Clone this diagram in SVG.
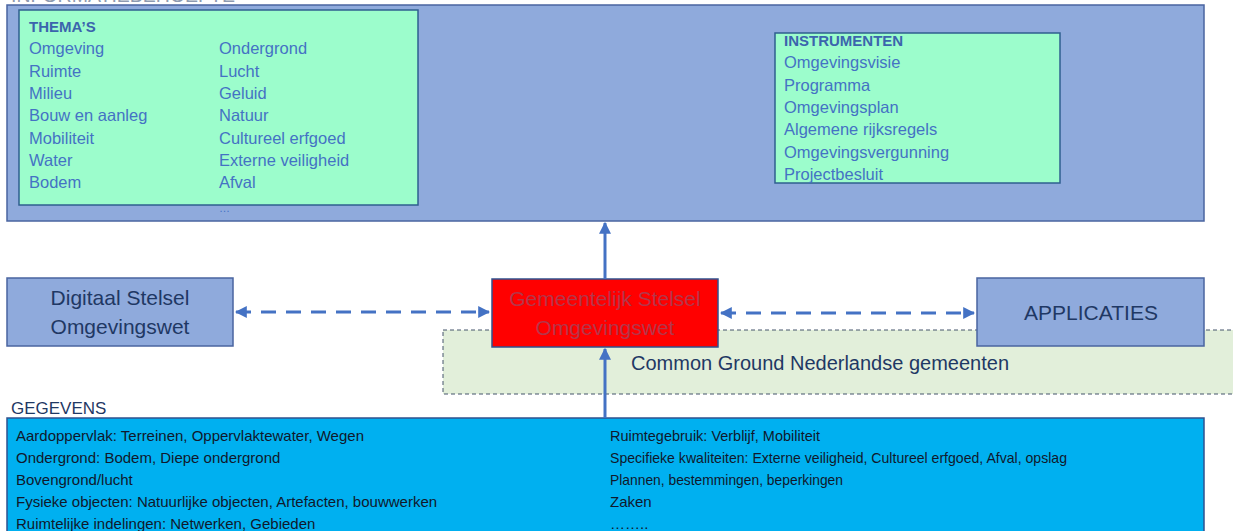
<svg xmlns="http://www.w3.org/2000/svg" width="1233" height="531" viewBox="0 0 1233 531">
<style>
text{font-family:"Liberation Sans",Arial,sans-serif}
.big{fill:#8faadc;stroke:#4a64a0;stroke-width:1.5}
.green{fill:#9cfdcc;stroke:#2f5f8f;stroke-width:1.5}
.item{font-size:16.5px;fill:#4472c4}
.head{font-size:15px;font-weight:bold;fill:#3b64ad}
.node{font-size:21px;fill:#1f3864;text-anchor:middle}
.data{font-size:15px;fill:#10182c}
.conn{stroke:#4472c4;stroke-width:3;fill:none}
.dash{stroke-dasharray:15 10}
</style>
<defs>
<marker id="ah" viewBox="0 0 10 10" refX="9" refY="5" markerWidth="4" markerHeight="4" orient="auto-start-reverse" markerUnits="strokeWidth">
<path d="M0,0 L10,5 L0,10 z" fill="#4472c4"/>
</marker>
</defs>

<text x="11" y="2" style="font-size:19.5px;fill:#8e9ab0">INFORMATIEBEHOEFTE</text>

<g id="informatiebehoefte">
<rect class="big" x="7" y="5" width="1197" height="216"/>
</g>

<g id="themas">
<rect class="green" x="19" y="10" width="399" height="195"/>
<text class="head" x="29" y="32">THEMA’S</text>
<text class="item" x="29" y="54">Omgeving</text>
<text class="item" x="29" y="77">Ruimte</text>
<text class="item" x="29" y="99">Milieu</text>
<text class="item" x="29" y="121">Bouw en aanleg</text>
<text class="item" x="29" y="144">Mobiliteit</text>
<text class="item" x="29" y="166">Water</text>
<text class="item" x="29" y="188">Bodem</text>
<text class="item" x="219" y="54">Ondergrond</text>
<text class="item" x="219" y="77">Lucht</text>
<text class="item" x="219" y="99">Geluid</text>
<text class="item" x="219" y="121">Natuur</text>
<text class="item" x="219" y="144">Cultureel erfgoed</text>
<text class="item" x="219" y="166">Externe veiligheid</text>
<text class="item" x="219" y="188">Afval</text>
<text x="219" y="212" style="font-size:11px;fill:#4472c4">…</text>
</g>

<g id="instrumenten">
<rect class="green" x="775" y="33" width="285" height="150"/>
<text class="head" x="784" y="46">INSTRUMENTEN</text>
<text class="item" x="784" y="68">Omgevingsvisie</text>
<text class="item" x="784" y="91">Programma</text>
<text class="item" x="784" y="113">Omgevingsplan</text>
<text class="item" x="784" y="135">Algemene rijksregels</text>
<text class="item" x="784" y="158">Omgevingsvergunning</text>
<text class="item" x="784" y="180">Projectbesluit</text>
</g>

<g id="common-ground">
<rect x="443" y="330" width="800" height="64" fill="#e2efda" stroke="#44546a" stroke-width="1" stroke-dasharray="4 3"/>
<text x="631" y="370" style="font-size:20px;fill:#1f3864">Common Ground Nederlandse gemeenten</text>
</g>

<g id="digitaal-stelsel">
<rect class="big" x="7" y="278" width="226" height="68"/>
<text class="node" x="120" y="305">Digitaal Stelsel</text>
<text class="node" x="120" y="334">Omgevingswet</text>
</g>

<g id="gemeentelijk-stelsel">
<rect x="492" y="279" width="226" height="68" fill="#ff0000" stroke="#2f528f" stroke-width="1.5"/>
<text class="node" x="605" y="306" style="fill:#b4364a">Gemeentelijk Stelsel</text>
<text class="node" x="605" y="335" style="fill:#b4364a">Omgevingswet</text>
</g>

<g id="applicaties">
<rect class="big" x="977" y="278" width="227" height="68"/>
<text class="node" x="1091" y="320">APPLICATIES</text>
</g>

<g id="gegevens">
<text x="11" y="414" style="font-size:17px;fill:#1f3864">GEGEVENS</text>
<rect x="7" y="418" width="1197" height="120" fill="#00b0f0" stroke="#2f528f" stroke-width="1.5"/>
<text class="data" x="16" y="441">Aardoppervlak: Terreinen, Oppervlaktewater, Wegen</text>
<text class="data" x="16" y="463">Ondergrond: Bodem, Diepe ondergrond</text>
<text class="data" x="16" y="485">Bovengrond/lucht</text>
<text class="data" x="16" y="507">Fysieke objecten: Natuurlijke objecten, Artefacten, bouwwerken</text>
<text class="data" x="16" y="529">Ruimtelijke indelingen: Netwerken, Gebieden</text>
<text class="data" x="610" y="441" textLength="210" lengthAdjust="spacingAndGlyphs">Ruimtegebruik: Verblijf, Mobiliteit</text>
<text class="data" x="610" y="463" textLength="457" lengthAdjust="spacingAndGlyphs">Specifieke kwaliteiten: Externe veiligheid, Cultureel erfgoed, Afval, opslag</text>
<text class="data" x="610" y="485" textLength="233" lengthAdjust="spacingAndGlyphs">Plannen, bestemmingen, beperkingen</text>
<text class="data" x="610" y="507">Zaken</text>
<text class="data" x="610" y="529">……..</text>
</g>

<g id="connectors">
<line class="conn dash" x1="236" y1="312" x2="489" y2="312" marker-start="url(#ah)" marker-end="url(#ah)"/>
<line class="conn dash" x1="721" y1="313" x2="974" y2="313" marker-start="url(#ah)" marker-end="url(#ah)"/>
<line class="conn" x1="605" y1="279" x2="605" y2="223" marker-end="url(#ah)"/>
<line class="conn" x1="605" y1="418" x2="605" y2="349" marker-end="url(#ah)"/>
</g>
</svg>
